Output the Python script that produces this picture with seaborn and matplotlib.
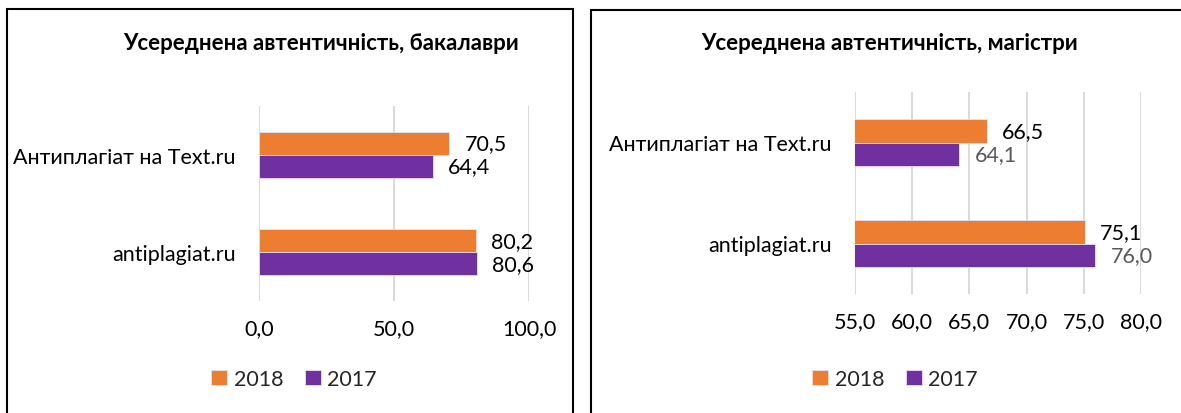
import pandas as pd
import numpy as np
import matplotlib.pyplot as plt
import seaborn as sns
from matplotlib.patches import Rectangle

# chart values
services = ['Антиплагіат на Text.ru', 'antiplagiat.ru']
years = ['2018', '2017']
bach_2018 = [70.5, 80.2]
bach_2017 = [64.4, 80.6]
mast_2018 = [66.5, 75.1]
mast_2017 = [64.1, 76.0]
bach_ticks = [0, 50, 100]
mast_ticks = [55, 60, 65, 70, 75, 80]

ORANGE = '#ED7D31'
PURPLE = '#7030A0'

sns.set_theme(style='white')
plt.rcParams['font.family'] = ['Lato', 'DejaVu Sans']


def long_table(v2018, v2017):
    return pd.DataFrame({
        'service': services * 2,
        'year': [years[0]] * len(services) + [years[1]] * len(services),
        'value': list(v2018) + list(v2017),
    })


def comma(v):
    return f"{v:.1f}".replace('.', ',')


fig = plt.figure(figsize=(11.81, 4.14), dpi=100)
W, H = 1181, 414


def px_axes(x0, x1, y0, y1):
    return fig.add_axes([x0 / W, 1 - y1 / H, (x1 - x0) / W, (y1 - y0) / H])


ax1 = px_axes(259, 529, 107, 302)
ax2 = px_axes(855, 1141, 93, 295)

panels = [
    (ax1, long_table(bach_2018, bach_2017), (0, 100), bach_ticks,
     'Усереднена автентичність, бакалаври', 321, ['#000000', '#000000'], 294),
    (ax2, long_table(mast_2018, mast_2017), (55, 80), mast_ticks,
     'Усереднена автентичність, магістри', 890, ['#000000', '#595959'], 895),
]

for ax, df, xlim, ticks, title, title_x, lab_colors, leg_x in panels:
    sns.barplot(data=df, y='service', x='value', hue='year', hue_order=years,
                order=services, palette=[ORANGE, PURPLE], saturation=1, orient='h',
                width=0.47, ax=ax, edgecolor='#E8E0F0', linewidth=0.6,
                errorbar=None, zorder=3)
    ax.set_xlim(*xlim)
    ax.set_ylim(1.5, -0.5)
    ax.set_xticks(ticks)
    ax.set_xticklabels([comma(t) for t in ticks])
    ax.set_xlabel('')
    ax.set_ylabel('')
    for s in ax.spines.values():
        s.set_visible(False)
    ax.grid(axis='x', color='#D9D9D9', linewidth=1.4, zorder=0)
    ax.set_axisbelow(True)
    ax.tick_params(axis='x', length=0, pad=12, labelsize=15.5, labelcolor='#000000')
    ax.tick_params(axis='y', length=0, pad=17, labelsize=15.5, labelcolor='#000000')

    for cont, col in zip(ax.containers, lab_colors):
        ax.bar_label(cont, fmt=comma, padding=11, fontsize=15.5, color=col)

    handles, labels = ax.get_legend_handles_labels()
    if ax.get_legend() is not None:
        ax.get_legend().remove()
    fig.legend(handles, labels, loc='center', bbox_to_anchor=(leg_x / W, 1 - 380 / H),
               ncol=2, frameon=False, fontsize=15.5, handlelength=0.75,
               handleheight=0.75, handletextpad=0.3, columnspacing=1.0)

    fig.text(title_x / W, 1 - 44 / H, title, ha='center', va='center',
             fontsize=16, fontweight='bold', color='#000000')

# panel borders
fig.add_artist(Rectangle((7 / W, -0.2), (573 - 7) / W, 1.2 - 10 / H,
                         transform=fig.transFigure, fill=False, ec='black', lw=1.5))
fig.add_artist(Rectangle((591 / W, -0.2), 0.6, 1.2 - 11 / H,
                         transform=fig.transFigure, fill=False, ec='black', lw=1.5))

fig.savefig('out.png', dpi=100, facecolor='white')
plt.close(fig)
